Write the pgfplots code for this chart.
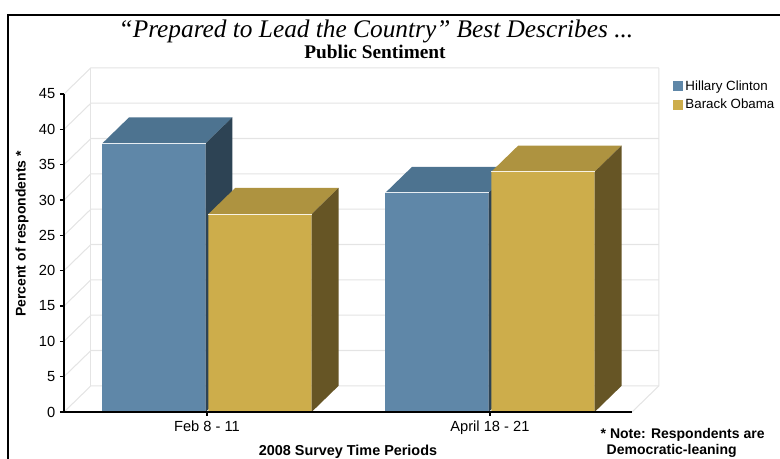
\documentclass[border=0pt]{standalone}
\usepackage{pgfplots}
\pgfplotsset{compat=1.18}
\usepackage{fontspec}
\setmainfont{Liberation Sans}
\newfontfamily\seriffont{Liberation Serif}
\definecolor{hfront}{RGB}{95,135,168}
\definecolor{htop}{RGB}{77,115,144}
\definecolor{hside}{RGB}{45,67,84}
\definecolor{ofront}{RGB}{205,173,75}
\definecolor{otop}{RGB}{174,147,64}
\definecolor{oside}{RGB}{102,85,37}
\definecolor{gridgray}{RGB}{228,228,228}
\begin{document}
\begin{tikzpicture}[x=0.75pt,y=0.75pt]
\useasboundingbox (0,0) rectangle (780,459);
\draw[line width=1.1pt] (8,444) rectangle (800,-20);
\node[font=\seriffont\itshape\fontsize{19}{21}\selectfont] at (376,428) {“Prepared to Lead the Country” Best Describes ...};
\node[font=\seriffont\bfseries\fontsize{14.5}{16}\selectfont] at (375,407) {Public Sentiment};
\node[anchor=west, font=\bfseries\fontsize{10.5}{12}\selectfont, align=left] at (596,16.5) {* Note: Respondents are\\\hspace{4.5pt}Democratic-leaning};
\begin{axis}[
  at={(48pt,35.25pt)}, anchor=south west,
  scale only axis, width=426pt, height=238.5pt,
  xmin=-0.505, xmax=1.502, ymin=0, ymax=45,
  clip=false, axis on top,
  axis x line*=bottom, axis y line*=left,
  axis line style={line width=1.4pt, -},
  xtick={0,1}, xticklabels={Feb 8 - 11, April 18 - 21},
  ytick={0,5,...,45},
  tick align=outside, major tick length=3pt,
  tick style={black, line width=1pt},
  /pgf/number format/assume math mode=true,
  ticklabel style={font=\fontsize{11}{13}\selectfont},
  xlabel={2008 Survey Time Periods},
  ylabel={Percent of respondents *},
  xlabel style={at={(axis description cs:0.5,-0.125)}, anchor=center, font=\bfseries\fontsize{10.8}{12}\selectfont},
  ylabel style={at={(axis description cs:-0.074,0.56)}, anchor=center, font=\bfseries\fontsize{10.5}{12}\selectfont},
  legend style={at={(axis description cs:1.069,1.06)}, anchor=north west, draw=none, fill=none,
    font=\fontsize{10}{12}\selectfont, row sep=1pt, cells={anchor=west}, inner xsep=1pt},
  legend entries={Hillary Clinton, Barack Obama},
]
% back wall, side wall and floor lines
\addplot[gridgray, line width=0.8pt, forget plot] coordinates {(-0.505,0) (-0.41,3.7) (1.597,3.7)};
\addplot[gridgray, line width=0.8pt, forget plot] coordinates {(-0.505,5) (-0.41,8.7) (1.597,8.7)};
\addplot[gridgray, line width=0.8pt, forget plot] coordinates {(-0.505,10) (-0.41,13.7) (1.597,13.7)};
\addplot[gridgray, line width=0.8pt, forget plot] coordinates {(-0.505,15) (-0.41,18.7) (1.597,18.7)};
\addplot[gridgray, line width=0.8pt, forget plot] coordinates {(-0.505,20) (-0.41,23.7) (1.597,23.7)};
\addplot[gridgray, line width=0.8pt, forget plot] coordinates {(-0.505,25) (-0.41,28.7) (1.597,28.7)};
\addplot[gridgray, line width=0.8pt, forget plot] coordinates {(-0.505,30) (-0.41,33.7) (1.597,33.7)};
\addplot[gridgray, line width=0.8pt, forget plot] coordinates {(-0.505,35) (-0.41,38.7) (1.597,38.7)};
\addplot[gridgray, line width=0.8pt, forget plot] coordinates {(-0.505,40) (-0.41,43.7) (1.597,43.7)};
\addplot[gridgray, line width=0.8pt, forget plot] coordinates {(-0.505,45) (-0.41,48.7) (1.597,48.7)};
\addplot[gridgray, line width=0.8pt, forget plot] coordinates {(-0.41,3.7) (-0.41,48.7)};
\addplot[gridgray, line width=0.8pt, forget plot] coordinates {(1.502,0) (1.597,3.7) (1.597,48.7)};
% Hillary Clinton
\addplot[ybar, bar width=0.365, bar shift=-0.1875, fill=hfront, draw=none,
  legend image code/.code={\fill[hfront] (0pt,-3.75pt) rectangle (7.5pt,3.75pt);}]
  coordinates {(0,38) (1,31)};
\addplot[fill=htop, draw=none, forget plot] coordinates {(-0.37,38) (-0.005,38) (0.09,41.7) (-0.275,41.7)} -- cycle;
\addplot[fill=hside, draw=none, forget plot] coordinates {(-0.005,0) (0.09,3.7) (0.09,41.7) (-0.005,38)} -- cycle;
\addplot[white!85!hfront, line width=0.8pt, forget plot] coordinates {(-0.37,38) (-0.005,38)};
\addplot[fill=htop, draw=none, forget plot] coordinates {(0.63,31) (0.995,31) (1.09,34.7) (0.725,34.7)} -- cycle;
\addplot[fill=hside, draw=none, forget plot] coordinates {(0.995,0) (1.09,3.7) (1.09,34.7) (0.995,31)} -- cycle;
\addplot[white!85!hfront, line width=0.8pt, forget plot] coordinates {(0.63,31) (0.995,31)};
% Barack Obama
\addplot[ybar, bar width=0.365, bar shift=0.1875, fill=ofront, draw=none,
  legend image code/.code={\fill[ofront] (0pt,-3.75pt) rectangle (7.5pt,3.75pt);}]
  coordinates {(0,28) (1,34)};
\addplot[fill=otop, draw=none, forget plot] coordinates {(0.005,28) (0.37,28) (0.465,31.7) (0.1,31.7)} -- cycle;
\addplot[fill=oside, draw=none, forget plot] coordinates {(0.37,0) (0.465,3.7) (0.465,31.7) (0.37,28)} -- cycle;
\addplot[white!85!ofront, line width=0.8pt, forget plot] coordinates {(0.005,28) (0.37,28)};
\addplot[fill=otop, draw=none, forget plot] coordinates {(1.005,34) (1.37,34) (1.465,37.7) (1.1,37.7)} -- cycle;
\addplot[fill=oside, draw=none, forget plot] coordinates {(1.37,0) (1.465,3.7) (1.465,37.7) (1.37,34)} -- cycle;
\addplot[white!85!ofront, line width=0.8pt, forget plot] coordinates {(1.005,34) (1.37,34)};
\end{axis}
\end{tikzpicture}
\end{document}
